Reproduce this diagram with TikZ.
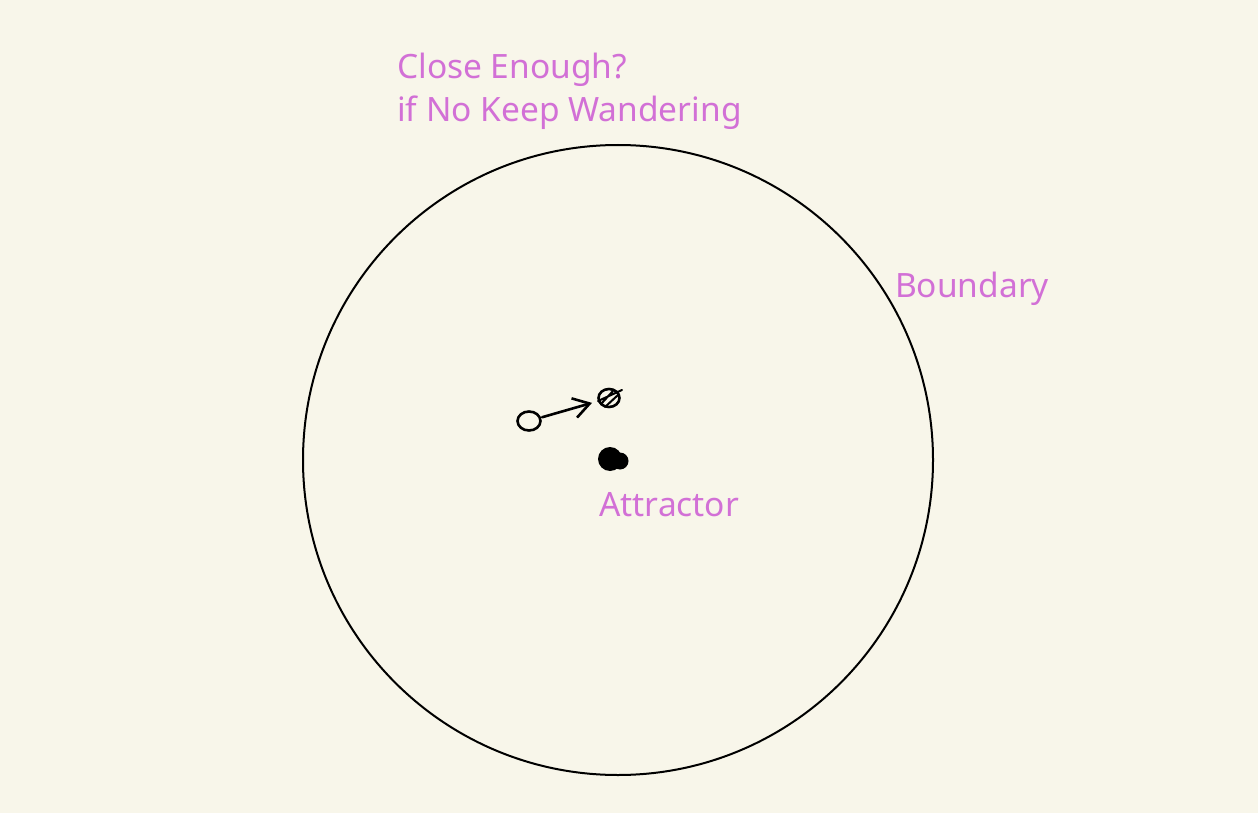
\documentclass[tikz,border=0pt]{standalone}
\usepackage{fontspec}
\setmainfont{Noto Sans}
\usetikzlibrary{shapes.geometric,arrows.meta}
\definecolor{bg}{RGB}{248,246,234}
\definecolor{lbl}{RGB}{210,112,214}
\begin{document}
\begin{tikzpicture}[x=1pt,y=-1pt,
  lab/.style={text=lbl,font=\fontsize{33.5}{43}\selectfont,inner sep=0pt,anchor=base west,align=left},
  ink/.style={draw=black,line width=2.6pt,line cap=round,line join=round}]
\fill[bg] (0,0) rectangle (1258,813);
\useasboundingbox (0,0) rectangle (1258,813);
\node[draw=black,line width=2pt,circle,minimum size=630pt,inner sep=0pt] (boundary) at (618,460) {};
\node[lab] (q) at (397,122) {Close Enough?\\if No Keep Wandering};
\node[lab] (bl) at (895,297) {Boundary};
\node[lab] (al) at (599,516) {Attractor};
% walker
\node[ink,ellipse,minimum width=23pt,minimum height=19pt,inner sep=0pt] (w) at (529,421) {};
\node[ink,ellipse,minimum width=21pt,minimum height=18pt,inner sep=0pt] (n) at (609,398) {};
\draw[ink,line width=2pt] (601,404) -- (613,391) (605,407) -- (618,395) (598,401)--(622,390);
\draw[ink,line width=2.6pt,shorten <=1pt,shorten >=6pt,-{Straight Barb[length=16pt,width=20pt]}] (w) -- (n);
\node[fill=black,circle,minimum size=24pt,inner sep=0pt] (a) at (610,459) {};
\fill[black] (620,461) circle (8.5pt);
\end{tikzpicture}
\end{document}
